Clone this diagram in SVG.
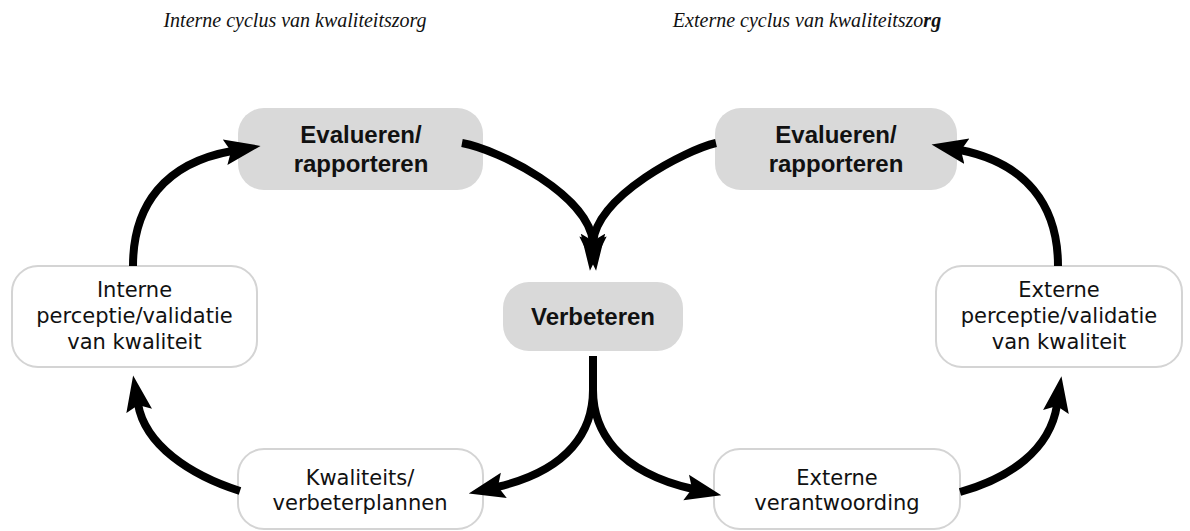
<svg xmlns="http://www.w3.org/2000/svg" width="1190" height="531" viewBox="0 0 1190 531">
<style>
.title{font-family:"Liberation Serif",serif;font-style:italic;font-size:20px;fill:#111;text-anchor:middle}
.main rect{fill:#d9d9d9;stroke:none}
.sub rect{fill:#fff;stroke:#d4d4d4;stroke-width:2}
.main text{font-family:"Liberation Sans",sans-serif;font-weight:bold;font-size:24px;fill:#111;text-anchor:middle}
.sub text{font-family:"DejaVu Sans",sans-serif;font-size:21px;fill:#111;text-anchor:middle}
.conn path{fill:none;stroke:#000;stroke-width:8;marker-end:url(#ah)}
</style>
<defs>
<marker id="ah" markerUnits="userSpaceOnUse" markerWidth="40" markerHeight="30" viewBox="0 -15 40 30" refX="7" refY="0" orient="auto">
<path d="M0,-13 L36,0 L0,13 L6,0 Z" fill="#000"/>
</marker>
</defs>
<rect width="1190" height="531" fill="#fff"/>
<text class="title" x="295" y="27">Interne cyclus van kwaliteitszorg</text>
<text class="title" x="807" y="27">Externe cyclus van kwaliteitszo<tspan font-weight="bold">rg</tspan></text>

<g id="eval-int" class="main"><rect x="238" y="108" width="245" height="82" rx="26"/><text x="361" y="143">Evalueren/</text><text x="361" y="172">rapporteren</text></g>
<g id="eval-ext" class="main"><rect x="715" y="108" width="242" height="82" rx="26"/><text x="836" y="143">Evalueren/</text><text x="836" y="172">rapporteren</text></g>
<g id="verbeteren" class="main"><rect x="503" y="282" width="180" height="69" rx="26"/><text x="593" y="325">Verbeteren</text></g>
<g id="int-perceptie" class="sub"><rect x="12" y="266" width="245" height="101" rx="26"/><text x="134.5" y="297">Interne</text><text x="134.5" y="323">perceptie/validatie</text><text x="134.5" y="349">van kwaliteit</text></g>
<g id="ext-perceptie" class="sub"><rect x="936" y="266" width="246" height="101" rx="26"/><text x="1059" y="297">Externe</text><text x="1059" y="323">perceptie/validatie</text><text x="1059" y="349">van kwaliteit</text></g>
<g id="plannen" class="sub"><rect x="238" y="449" width="245" height="80" rx="26"/><text x="360" y="485">Kwaliteits/</text><text x="360" y="510">verbeterplannen</text></g>
<g id="verantwoording" class="sub"><rect x="714" y="449" width="246" height="80" rx="26"/><text x="837" y="485">Externe</text><text x="837" y="510">verantwoording</text></g>

<g id="connectors" class="conn">
<path d="M133,266 C133,205 165,163 232,151"/>
<path d="M462,143 C500,150 588,195 593,242"/>
<path d="M716,143 C686,150 598,195 593,242"/>
<path d="M593,356 L593,390 C593,430 570,470 497,487"/>
<path d="M593,356 L593,390 C593,430 617,472 693,489"/>
<path d="M240,491 C190,475 145,445 138,404"/>
<path d="M960,492 C1010,478 1050,450 1057,405"/>
<path d="M1058,266 C1058,205 1026,163 960,150"/>
</g>
</svg>
